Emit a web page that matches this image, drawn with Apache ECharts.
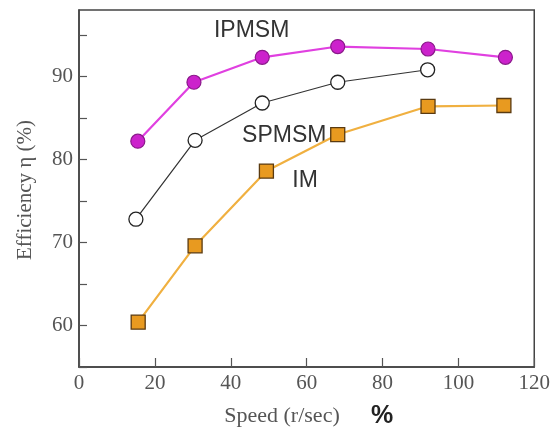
<!DOCTYPE html>
<html><head><meta charset="utf-8">
<script src="https://cdn.jsdelivr.net/npm/echarts@6/dist/echarts.min.js"></script>
<style>html,body{margin:0;padding:0;background:#fff}#c{width:553px;height:435px}</style>
</head><body><div id="c"></div>
<script>
const seriesNames = ['IPMSM', 'SPMSM', 'IM'];
const ipmsmX = [15.5, 30.3, 48.3, 68.2, 92.0, 112.4];
const ipmsmY = [82.2, 89.3, 92.3, 93.6, 93.3, 92.3];
const spmsmX = [15.0, 30.6, 48.3, 68.2, 91.9];
const spmsmY = [72.8, 82.3, 86.8, 89.3, 90.8];
const imX = [15.6, 30.6, 49.4, 68.2, 92.0, 112.0];
const imY = [60.4, 69.6, 78.6, 83.0, 86.4, 86.5];
const xTicks = [0, 20, 40, 60, 80, 100, 120];
const yTickLabels = [60, 70, 80, 90];

const pair = (xs, ys) => xs.map((x, i) => [x, ys[i]]);
const chart = echarts.init(document.getElementById('c'));
const serif = 'Liberation Serif';
const sans = 'Liberation Sans';

chart.setOption({
  animation: false,
  grid: { left: 79, right: 15, top: 10, bottom: 68, show: true, borderColor: '#444', borderWidth: 1.5, backgroundColor: 'transparent' },
  xAxis: {
    type: 'value', min: 0, max: 120, interval: 20,
    axisLine: { lineStyle: { color: '#444', width: 1.5 } },
    axisTick: { inside: true, length: 9, lineStyle: { color: '#555', width: 1.2 } },
    axisLabel: { fontFamily: serif, fontSize: 21, color: '#555', margin: 6,
      formatter: v => xTicks.includes(v) ? String(v) : '' },
    splitLine: { show: false }
  },
  yAxis: {
    type: 'value', min: 55, max: 98, interval: 5,
    axisLine: { lineStyle: { color: '#444', width: 1.5 } },
    axisTick: { inside: true, length: 8, lineStyle: { color: '#555', width: 1.2 } },
    axisLabel: { fontFamily: serif, fontSize: 21, color: '#555', margin: 6, showMaxLabel: false,
      formatter: v => yTickLabels.includes(v) ? String(v) : '' },
    splitLine: { show: false }
  },
  series: [
    { name: seriesNames[0], type: 'line', data: pair(ipmsmX, ipmsmY),
      symbol: 'circle', symbolSize: 14,
      lineStyle: { color: '#e040e0', width: 2.2 },
      itemStyle: { color: '#cc22cc', borderColor: '#8a1a8a', borderWidth: 1.2 } },
    { name: seriesNames[1], type: 'line', data: pair(spmsmX, spmsmY),
      symbol: 'circle', symbolSize: 14,
      lineStyle: { color: '#333', width: 1.2 },
      itemStyle: { color: '#fff', borderColor: '#222', borderWidth: 1.3 } },
    { name: seriesNames[2], type: 'line', data: pair(imX, imY),
      symbol: 'rect', symbolSize: 14,
      lineStyle: { color: '#f0b040', width: 2.2 },
      itemStyle: { color: '#e89a20', borderColor: '#5a3a10', borderWidth: 1.3 } }
  ]
});

const labelSpots = [[45.5, 95.5], [54.1, 82.9], [59.6, 77.4]];
const g = labelSpots.map((p, i) => {
  const px = chart.convertToPixel({ gridIndex: 0 }, p);
  return { type: 'text', x: px[0], y: px[1],
    style: { text: seriesNames[i], font: '23px "' + sans + '"', fill: '#333', align: 'center', verticalAlign: 'middle' } };
});
g.push({ type: 'text', x: 282, y: 416,
  style: { text: 'Speed (r/sec)', font: '22px "' + serif + '"', fill: '#555', align: 'center', verticalAlign: 'middle' } });
g.push({ type: 'text', x: 382, y: 416,
  style: { text: '%', font: 'bold 25px "' + sans + '"', fill: '#222', align: 'center', verticalAlign: 'middle' } });
g.push({ type: 'text', x: 25, y: 190, rotation: Math.PI / 2,
  style: { text: 'Efficiency η (%)', font: '21px "' + serif + '"', fill: '#555', align: 'center', verticalAlign: 'middle' } });
chart.setOption({ graphic: g });
</script>
</body></html>
